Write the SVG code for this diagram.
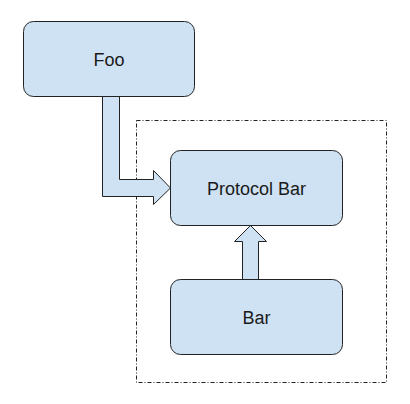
<svg xmlns="http://www.w3.org/2000/svg" width="410" height="404" viewBox="0 0 410 404">
<style>
.node{fill:#cfe2f3;stroke:#222;stroke-width:1}
.lbl{font-family:"Liberation Sans",Arial,sans-serif;font-size:18px;fill:#1a1a1a;text-anchor:middle}
.arrow{fill:#cfe2f3;stroke:#222;stroke-width:1;stroke-linejoin:miter}
.group{fill:none;stroke:#222;stroke-width:1;stroke-dasharray:4,2,1,2}
</style>
<rect width="410" height="404" fill="#fff"/>
<g id="container"><rect class="group" x="136.5" y="120.5" width="250" height="262"/></g>
<g id="connectors">
<path class="arrow" d="M102.5,96.5 L119.5,96.5 L119.5,179.5 L153.5,179.5 L153.5,170.5 L170.5,188 L153.5,204.5 L153.5,196.5 L102.5,196.5 Z"/>
<path class="arrow" d="M242.5,279.5 L242.5,241.5 L234.5,241.5 L250.5,225.5 L266.5,241.5 L258.5,241.5 L258.5,279.5 Z"/>
</g>
<g id="foo"><rect class="node" x="23.5" y="21.5" width="171" height="75" rx="10"/><text class="lbl" x="109" y="66">Foo</text></g>
<g id="protocol-bar"><rect class="node" x="170.5" y="150.5" width="172" height="75" rx="10"/><text class="lbl" x="256.5" y="195">Protocol Bar</text></g>
<g id="bar"><rect class="node" x="170.5" y="279.5" width="172" height="75" rx="10"/><text class="lbl" x="256.5" y="324">Bar</text></g>
</svg>
